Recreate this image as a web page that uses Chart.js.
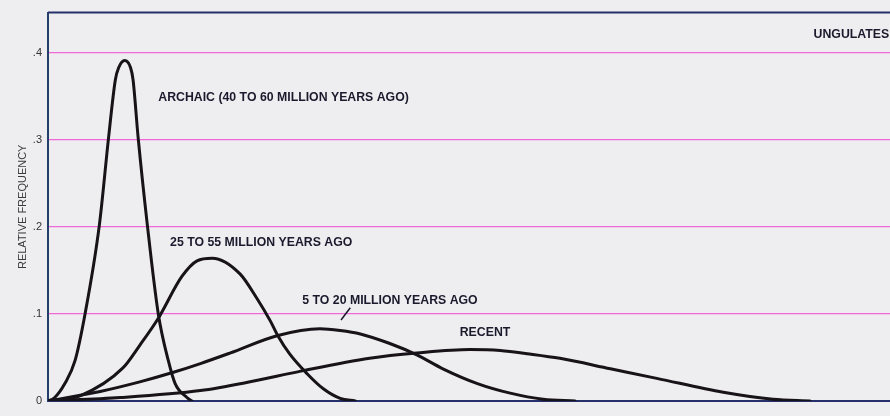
<!DOCTYPE html>
<html>
<head>
<meta charset="utf-8">
<script src="https://cdn.jsdelivr.net/npm/chart.js@4/dist/chart.umd.min.js"></script>
<style>
  html, body { margin: 0; padding: 0; background: #eeedf0; }
  #wrap { width: 890px; height: 416px; }
</style>
</head>
<body>
<div id="wrap"><canvas id="c" width="890" height="416"></canvas></div>
<script>
// Relative frequency curves of ungulate body size, by geological age.
// x: body size (arbitrary linear units, 0 to 100), y: relative frequency.
const archaicX = [0, 0.8, 2.0, 3.2, 4.4, 6.1, 7.2, 8.0, 8.4, 9.1, 9.8, 10.1, 10.7, 11.8, 13.1, 14.3, 15.1, 16.5, 17.1];
const archaicY = [0, 0.004, 0.020, 0.046, 0.100, 0.202, 0.303, 0.369, 0.383, 0.391, 0.383, 0.369, 0.303, 0.202, 0.100, 0.046, 0.020, 0.004, 0];

const mid25X = [0, 3.8, 8.9, 10.9, 13.1, 15.9, 17.7, 19.5, 22.8, 24.8, 26.4, 27.3, 28.7, 30.8, 32.7, 34.7, 36.5];
const mid25Y = [0, 0.006, 0.038, 0.064, 0.095, 0.143, 0.161, 0.164, 0.146, 0.118, 0.092, 0.075, 0.054, 0.031, 0.014, 0.003, 0];

const late5X = [0, 6.2, 10.9, 14.9, 18.1, 21.6, 27.2, 32.3, 34.7, 37.1, 40.6, 43.8, 46.9, 51.0, 54.9, 58.8, 62.6];
const late5Y = [0, 0.011, 0.022, 0.033, 0.043, 0.055, 0.075, 0.083, 0.081, 0.077, 0.066, 0.053, 0.037, 0.020, 0.009, 0.002, 0];

const recentX = [0, 8.6, 18.1, 24.0, 29.9, 38.2, 43.8, 50.1, 53.7, 57.2, 60.8, 66.8, 72.3, 80.2, 86.1, 90.5];
const recentY = [0, 0.004, 0.012, 0.022, 0.034, 0.049, 0.055, 0.059, 0.058, 0.054, 0.049, 0.037, 0.026, 0.010, 0.002, 0];

const yTicks = [0, 0.1, 0.2, 0.3, 0.4];
const yTickLabels = ['0', '.1', '.2', '.3', '.4'];
const yTitle = 'RELATIVE FREQUENCY';

// Curve captions, anchored in data units (left edge, vertical middle)
const captions = [
  { text: 'ARCHAIC (40 TO 60 MILLION YEARS AGO)', x: 13.1, y: 0.348, align: 'left' },
  { text: '25 TO 55 MILLION YEARS AGO', x: 14.5, y: 0.182, align: 'left' },
  { text: '5 TO 20 MILLION YEARS AGO', x: 30.2, y: 0.115, align: 'left' },
  { text: 'RECENT', x: 48.9, y: 0.078, align: 'left' },
  { text: 'UNGULATES', x: 99.9, y: 0.421, align: 'right' }
];
// Pointer from the "5 TO 20" caption down to its curve
const pointer = { x1: 35.9, y1: 0.107, x2: 34.8, y2: 0.093 };

const INK = '#171318';
const PINK = '#f168d8';
const NAVY = '#26306a';
const BG = '#eeedf0';

function toPoints(xs, ys) { return xs.map((x, i) => ({ x: x, y: ys[i] })); }

function curve(xs, ys) {
  return {
    data: toPoints(xs, ys),
    borderColor: INK,
    borderWidth: 3,
    pointRadius: 0,
    fill: false,
    cubicInterpolationMode: 'monotone',
    borderCapStyle: 'round',
    borderJoinStyle: 'round'
  };
}

const bgPlugin = {
  id: 'bg',
  beforeDraw(chart) {
    const ctx = chart.ctx;
    ctx.save();
    ctx.fillStyle = BG;
    ctx.fillRect(0, 0, chart.width, chart.height);
    ctx.restore();
  }
};

const framePlugin = {
  id: 'frame',
  afterDraw(chart) {
    const { ctx, chartArea } = chart;
    ctx.save();
    ctx.strokeStyle = NAVY;
    ctx.lineWidth = 2;
    ctx.beginPath();
    ctx.moveTo(chartArea.left, chartArea.top);
    ctx.lineTo(chartArea.right, chartArea.top);
    ctx.stroke();
    ctx.restore();
  }
};

const captionPlugin = {
  id: 'captions',
  afterDatasetsDraw(chart) {
    const { ctx, scales } = chart;
    const xs = scales.x, ys = scales.y;
    ctx.save();
    ctx.fillStyle = '#1b1a2c';
    ctx.font = 'bold 12.3px "Liberation Sans", Arial, sans-serif';
    ctx.textBaseline = 'middle';
    captions.forEach(c => {
      ctx.textAlign = c.align;
      ctx.fillText(c.text, xs.getPixelForValue(c.x), ys.getPixelForValue(c.y));
    });
    ctx.strokeStyle = '#1b1a2c';
    ctx.lineWidth = 1.5;
    ctx.beginPath();
    ctx.moveTo(xs.getPixelForValue(pointer.x1), ys.getPixelForValue(pointer.y1));
    ctx.lineTo(xs.getPixelForValue(pointer.x2), ys.getPixelForValue(pointer.y2));
    ctx.stroke();
    ctx.restore();
  }
};

new Chart(document.getElementById('c'), {
  type: 'line',
  data: {
    datasets: [
      curve(archaicX, archaicY),
      curve(mid25X, mid25Y),
      curve(late5X, late5Y),
      curve(recentX, recentY)
    ]
  },
  options: {
    responsive: false,
    devicePixelRatio: 1,
    animation: false,
    layout: { padding: { left: 0, right: 0, top: 8.8, bottom: 7 } },
    plugins: { legend: { display: false }, tooltip: { enabled: false } },
    scales: {
      x: {
        type: 'linear',
        min: 0,
        max: 100,
        grid: { display: false },
        ticks: { display: false },
        border: { display: true, color: NAVY, width: 2 }
      },
      y: {
        type: 'linear',
        min: 0,
        max: 0.446,
        afterBuildTicks(scale) { scale.ticks = yTicks.map(v => ({ value: v })); },
        afterFit(scale) { scale.width = 48; },
        ticks: {
          padding: 6,
          color: '#333',
          font: { family: '"Liberation Sans", Arial, sans-serif', size: 11 },
          callback(value) {
            const i = yTicks.findIndex(t => Math.abs(t - value) < 1e-9);
            return i >= 0 ? yTickLabels[i] : '';
          }
        },
        grid: {
          drawTicks: false,
          lineWidth: 1.3,
          color(ctx) { return ctx.tick && ctx.tick.value === 0 ? 'rgba(0,0,0,0)' : PINK; }
        },
        border: { display: true, color: '#24406a', width: 2 },
        title: {
          display: true,
          text: yTitle,
          color: '#3a3a3a',
          font: { family: '"Liberation Sans", Arial, sans-serif', size: 11 },
          padding: { top: 16, bottom: 0 }
        }
      }
    }
  },
  plugins: [bgPlugin, framePlugin, captionPlugin]
});
</script>
</body>
</html>
